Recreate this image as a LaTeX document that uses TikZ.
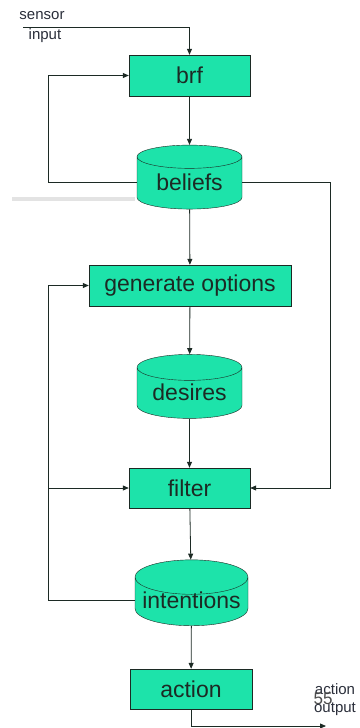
\documentclass[tikz,border=0pt]{standalone}
\usepackage{fontspec}
\setmainfont{Liberation Sans}
\usetikzlibrary{arrows.meta, shapes.geometric}
\definecolor{boxGreen}{HTML}{1DE3AA}
\definecolor{inkDark}{HTML}{1C2A24}
\definecolor{labelInk}{HTML}{2A2E3A}

\tikzset{
  procbox/.style={draw=inkDark, fill=boxGreen, rectangle, minimum height=41pt,
    text=inkDark, font=\fontsize{23}{26}\selectfont, inner sep=0pt},
  store/.style={draw=inkDark, fill=boxGreen, cylinder, shape border rotate=90,
    aspect=0.35, minimum width=105pt, minimum height=64pt, inner sep=0pt,
    text=inkDark, font=\fontsize{23}{26}\selectfont, text height=14pt, text depth=0pt},
  conn/.style={draw=inkDark, line width=0.8pt, -{Triangle[length=6pt,width=5pt]}},
  smalltext/.style={text=labelInk, font=\fontsize{15}{17}\selectfont, inner sep=0pt}
}

\begin{document}
\begin{tikzpicture}[x=1pt, y=-1pt]
  \useasboundingbox (0,0) rectangle (359,728);
  % Slide shadow
  \draw[gray!22, line width=4pt] (12,199) -- (135,199);
  % Process boxes
  \node[procbox, minimum width=121pt] (brf) at (189.5,75.5) {brf};
  \node[procbox, minimum width=202pt] (genopt) at (190,285.5) {generate options};
  \node[procbox, minimum width=121pt, minimum height=40pt] (filter) at (189.5,488) {filter};
  \node[procbox, minimum width=122pt, minimum height=40pt] (action) at (191,689) {action};
  % Stores
  \node[store] (beliefs) at (189.5,183) {beliefs};
  \node[store] (desires) at (189.5,393) {desires};
  \node[store, minimum width=113pt, minimum height=65pt] (intentions) at (191.5,601.5) {intentions};
  % Outside labels
  \node[smalltext] (sensor) at (42,16) {sensor};
  \node[smalltext] (input) at (45,36) {input};
  \node[smalltext] (actlbl) at (335,689) {action};
  \node[smalltext] (outlbl) at (335,709) {output};
  \node[text=black!70, font=\fontsize{17}{19}\selectfont, inner sep=0pt] (slideno) at (323,699) {55};
  % Corners of the loops
  \coordinate (sensorin) at (23,27);
  \coordinate (rcorner) at (330,182);
  \coordinate (lcorner) at (48,182);
  \coordinate (lcornerb) at (48,600);
  \coordinate (ljoin) at (48,488);
  \coordinate (outend) at (326,726);
  % Main flow
  \draw[conn] (sensorin) -| (brf.north);
  \draw[conn] (brf) -- (beliefs);
  \draw[conn] (beliefs) -- (genopt);
  \draw[conn] (genopt) -- (desires);
  \draw[conn] (desires) -- (filter);
  \draw[conn] (filter) -- (intentions);
  \draw[conn] (intentions) -- (action);
  \draw[conn] (action.south) |- (outend);
  % Feedback loops
  \draw[conn] (beliefs.west |- lcorner) -- (lcorner) |- (brf.west);
  \draw[conn] (beliefs.east |- rcorner) -- (rcorner) |- (filter.east);
  \draw[conn] (intentions.west |- lcornerb) -- (lcornerb) |- (genopt.west);
  \draw[conn] (ljoin) -- (filter.west);
\end{tikzpicture}
\end{document}
